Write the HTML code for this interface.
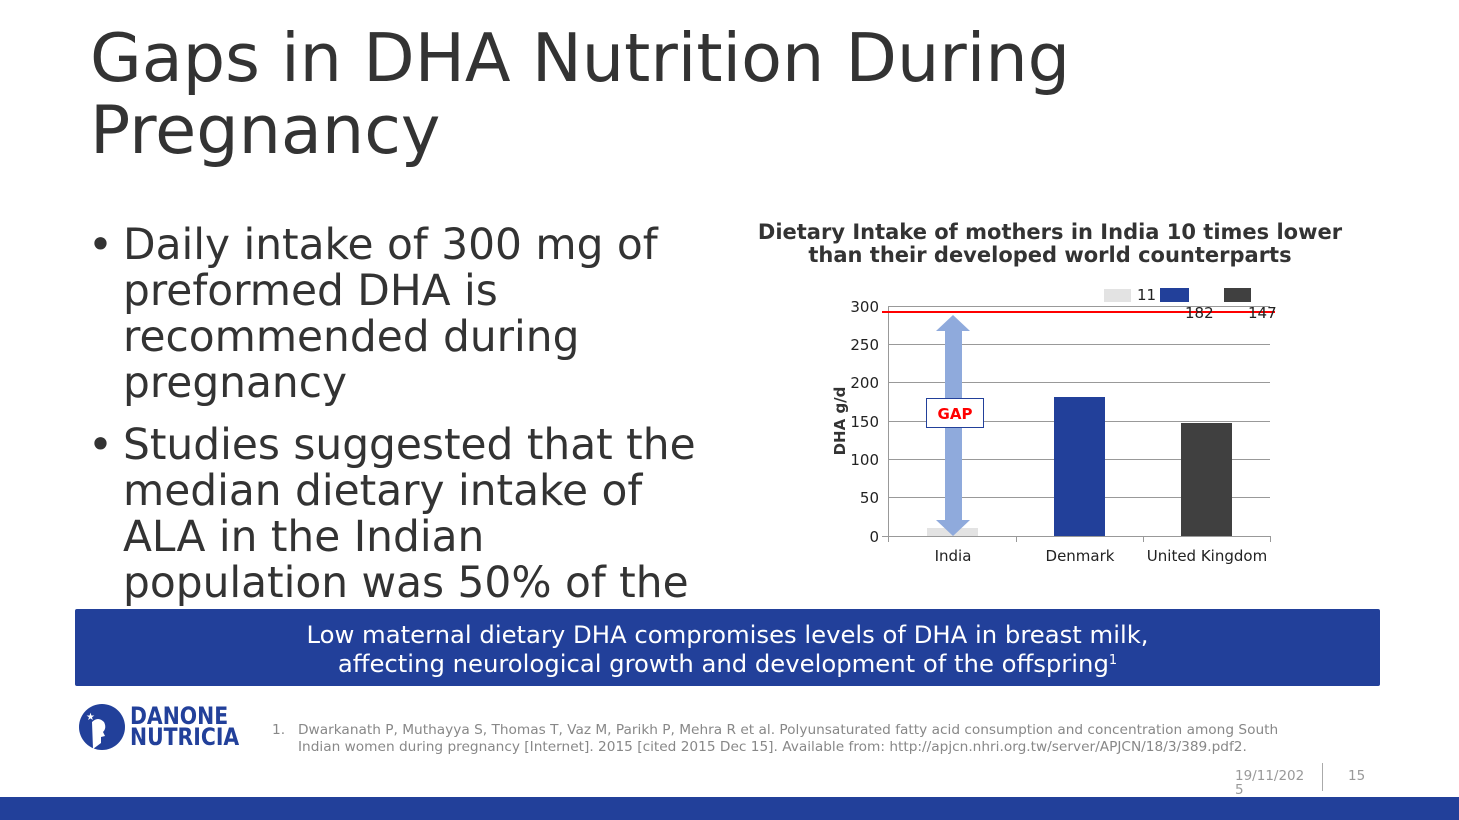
<!DOCTYPE html>
<html><head><meta charset="utf-8"><style>
body{margin:0;width:1459px;height:820px;position:relative;overflow:hidden;background:#fff;font-family:"DejaVu Sans","Liberation Sans",sans-serif;color:#333}
.abs{position:absolute;white-space:nowrap}
</style></head><body>
<div class="abs" style="left:90px;top:22px;font-size:66.8px;line-height:72px;color:#333">Gaps in DHA Nutrition During<br>Pregnancy</div>
<div class="abs" style="left:88px;top:222px;width:640px;height:387px;overflow:hidden;font-size:42.3px;line-height:46px;color:#333">
<div style="position:relative;padding-left:35px"><span style="position:absolute;left:0">•</span>Daily intake of 300 mg of<br>preformed DHA is<br>recommended during<br>pregnancy</div>
<div style="position:relative;padding-left:35px;margin-top:16px"><span style="position:absolute;left:0">•</span>Studies suggested that the<br>median dietary intake of<br>ALA in the Indian<br>population was 50% of the</div>
</div>
<div class="abs" style="left:740px;top:221px;width:620px;text-align:center;font-size:21px;line-height:23px;font-weight:bold;color:#333">Dietary Intake of mothers in India 10 times lower<br>than their developed world counterparts</div>
<svg class="abs" style="left:0;top:0" width="1459" height="820">
<g stroke="#999" stroke-width="1">
<line x1="888" y1="306.5" x2="1270" y2="306.5"/><line x1="888" y1="344.5" x2="1270" y2="344.5"/><line x1="888" y1="382.5" x2="1270" y2="382.5"/><line x1="888" y1="421.5" x2="1270" y2="421.5"/><line x1="888" y1="459.5" x2="1270" y2="459.5"/><line x1="888" y1="497.5" x2="1270" y2="497.5"/><line x1="888" y1="536.5" x2="1270" y2="536.5"/>
<line x1="888.5" y1="306" x2="888.5" y2="542"/>
<line x1="882" y1="536.5" x2="888" y2="536.5"/>
<line x1="1016.5" y1="536" x2="1016.5" y2="542"/><line x1="1143.5" y1="536" x2="1143.5" y2="542"/><line x1="1270.5" y1="536" x2="1270.5" y2="542"/>
</g>
<rect x="927" y="528" width="51" height="8" fill="#e3e3e3"/>
<rect x="1054" y="397" width="51" height="139" fill="#22409a"/>
<rect x="1181" y="423" width="51" height="113" fill="#404040"/>
<rect x="1104" y="289" width="27" height="13" fill="#e3e3e3"/>
<rect x="1160" y="288" width="29" height="14" fill="#22409a"/>
<rect x="1224" y="288" width="27" height="14" fill="#404040"/>
<polygon points="953,315 970,331 962,331 962,520 970,520 953,536 936,520 945,520 945,331 936,331" fill="#8faadc"/>
<line x1="882" y1="312" x2="1275" y2="312" stroke="#ff0000" stroke-width="2"/>
<rect x="926.5" y="398.5" width="57" height="29" fill="#fff" stroke="#22409a"/>
<text x="955" y="419" font-size="15" font-weight="bold" fill="#ff0000" text-anchor="middle" font-family="DejaVu Sans,sans-serif">GAP</text>
<g font-size="15" fill="#222" font-family="DejaVu Sans,sans-serif" text-anchor="end">
<text x="879" y="312">300</text><text x="879" y="350">250</text><text x="879" y="388">200</text><text x="879" y="427">150</text><text x="879" y="465">100</text><text x="879" y="503">50</text><text x="879" y="542">0</text>
</g>
<g font-size="15" fill="#222" font-family="DejaVu Sans,sans-serif">
<text x="1137" y="300">11</text><text x="1185" y="318">182</text><text x="1248" y="318">147</text>
<text x="953" y="561" text-anchor="middle">India</text><text x="1080" y="561" text-anchor="middle">Denmark</text><text x="1207" y="561" text-anchor="middle">United Kingdom</text>
</g>
<text transform="translate(845,421) rotate(-90)" font-size="15" font-weight="bold" fill="#333" text-anchor="middle" font-family="DejaVu Sans,sans-serif">DHA g/d</text>
<rect x="75" y="609" width="1305" height="77" rx="2" fill="#22409a"/>
<circle cx="102" cy="727" r="23" fill="#22409a"/>
<path d="M92 722 q6 -6 12 0 q3 6 -1 10 l2 4 l-4 1 l0 6 l-8 6 z" fill="#fff"/>
<text x="86" y="720" font-size="10" fill="#fff">★</text>
<rect x="1322" y="763" width="1" height="28" fill="#aaa"/>
<rect x="0" y="797" width="1459" height="23" fill="#22409a"/>
</svg>
<div class="abs" style="left:75px;top:620px;width:1305px;text-align:center;font-size:24.3px;line-height:29px;color:#fff"><div>Low maternal dietary DHA compromises levels of DHA in breast milk,</div><div style="margin-top:-3px">affecting neurological growth and development of the offspring<span style="font-size:13px;vertical-align:8px">1</span></div></div>
<div class="abs" style="left:130px;top:706px;font-size:24px;line-height:21px;font-weight:bold;color:#22409a;font-family:'DejaVu Sans',sans-serif;transform:scaleX(0.85);transform-origin:left">DANONE<br>NUTRICIA</div>
<div class="abs" style="left:272px;top:722px;font-size:13.7px;line-height:17px;color:#888">1.</div>
<div class="abs" style="left:298px;top:722px;font-size:13.7px;line-height:17px;color:#888">Dwarkanath P, Muthayya S, Thomas T, Vaz M, Parikh P, Mehra R et al. Polyunsaturated fatty acid consumption and concentration among South<br>Indian women during pregnancy [Internet]. 2015 [cited 2015 Dec 15]. Available from: http://apjcn.nhri.org.tw/server/APJCN/18/3/389.pdf2.</div>
<div class="abs" style="left:1235px;top:769px;font-size:13.5px;line-height:14px;color:#999">19/11/202<br>5</div>
<div class="abs" style="left:1348px;top:769px;font-size:13.5px;line-height:14px;color:#999">15</div>
</body></html>
